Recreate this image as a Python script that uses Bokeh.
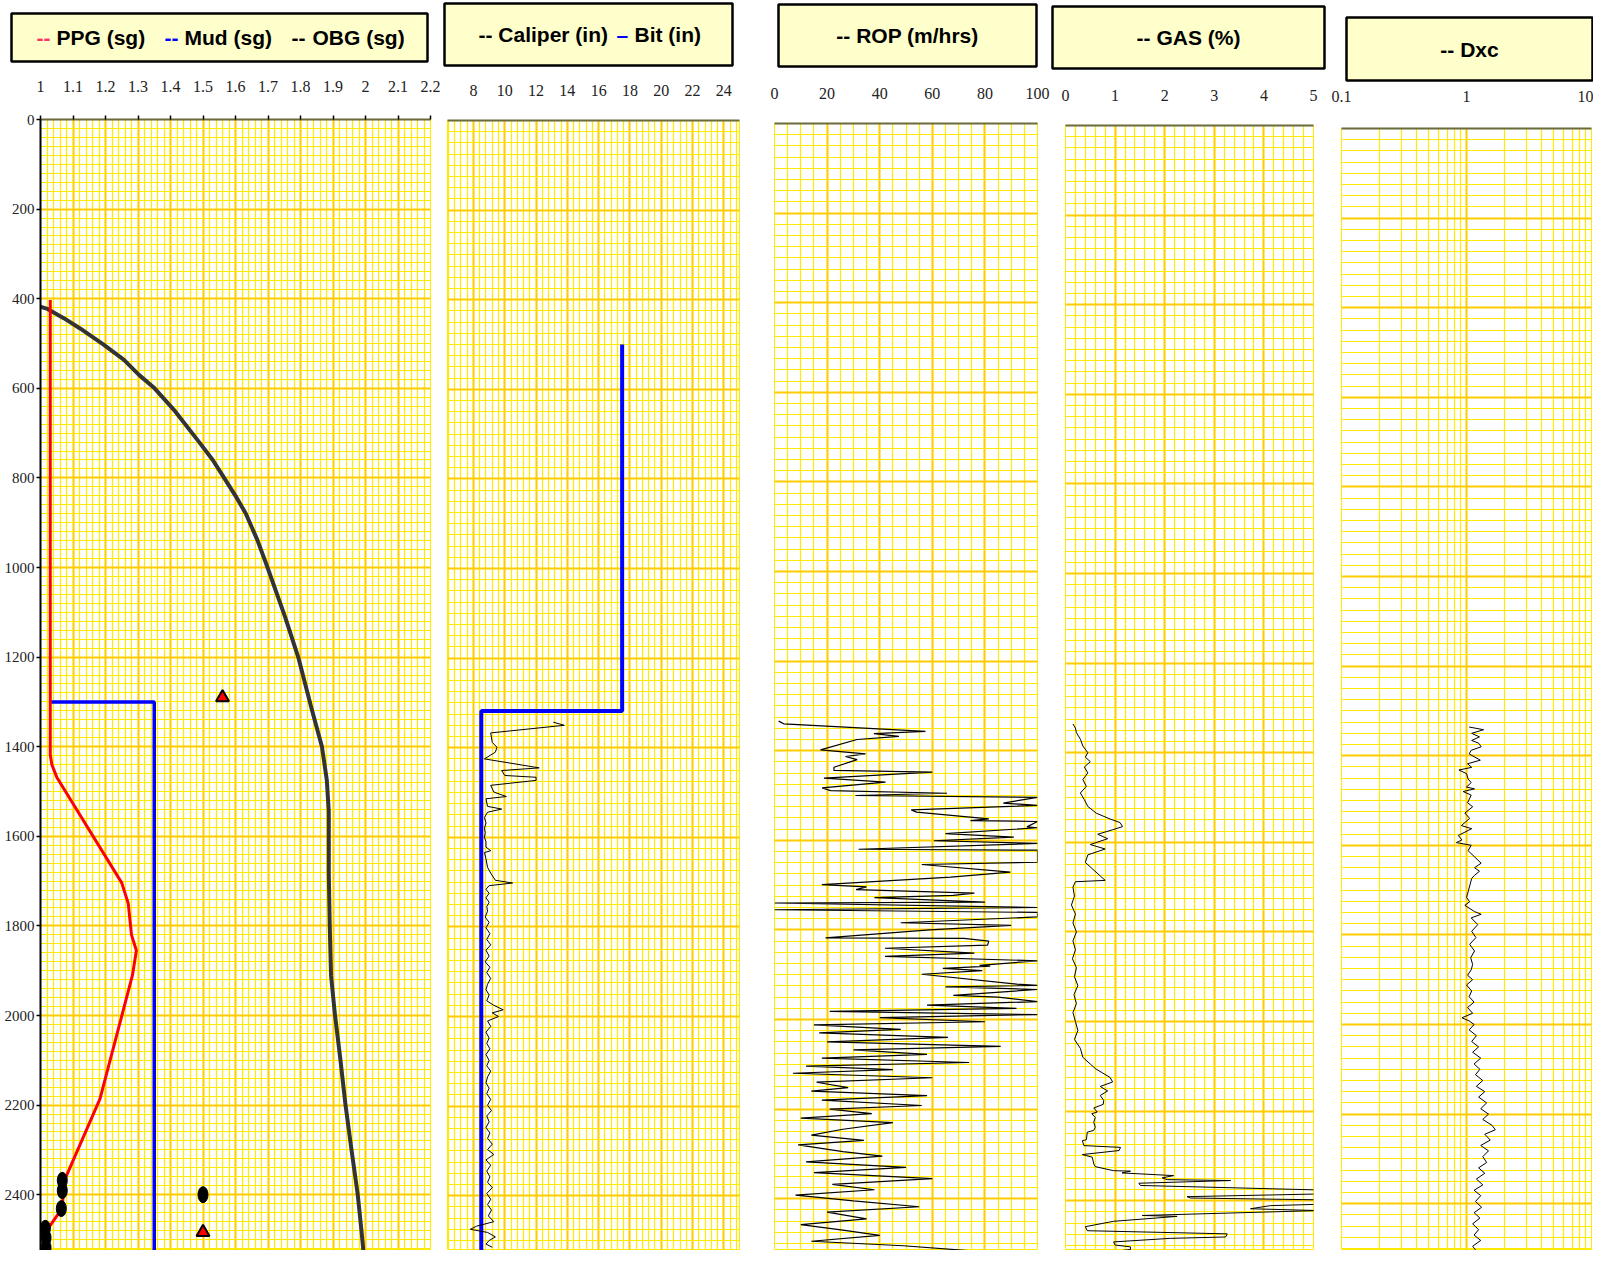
import numpy as np
from bokeh.plotting import figure
from bokeh.layouts import row, column
from bokeh.models import Range1d, FixedTicker, CustomJSTickFormatter
from bokeh.core.properties import value
from bokeh.embed import file_html
from bokeh.resources import INLINE

# ------------------------------------------------------------------ data
DEPTH_TICKS = [0, 200, 400, 600, 800, 1000, 1200, 1400, 1600, 1800, 2000, 2200, 2400, 2600]

# Track 1 : pressure gradients (sg)
PPG_TICKS = [1.0, 1.1, 1.2, 1.3, 1.4, 1.5, 1.6, 1.7, 1.8, 1.9, 2.0, 2.1, 2.2]
PPG_DEPTH = [403, 1418, 1440, 1468, 1704, 1750, 1820, 1855, 1910, 2186, 2369, 2430, 2484, 2525]
PPG_VAL = [1.03, 1.03, 1.035, 1.05, 1.25, 1.27, 1.28, 1.295, 1.283, 1.183, 1.073, 1.067, 1.015, 1.017]

MUD_DEPTH = [1300, 1300, 2560]
MUD_VAL = [1.03, 1.35, 1.35]

OBG_DEPTH = [417, 422, 444, 467, 502, 536, 570, 600, 651, 719, 760, 800, 840, 880, 940, 999,
             1109, 1200, 1315, 1400, 1475, 1544, 1682, 1801, 1911, 1998, 2094, 2197, 2300,
             2399, 2483, 2560]
OBG_VAL = [0.995, 1.019, 1.073, 1.123, 1.193, 1.256, 1.303, 1.351, 1.414, 1.487, 1.53, 1.565,
           1.60, 1.632, 1.668, 1.698, 1.752, 1.793, 1.834, 1.866, 1.881, 1.887, 1.887, 1.89,
           1.894, 1.906, 1.922, 1.938, 1.957, 1.976, 1.988, 1.998]

PT_DEPTH = [2368, 2391, 2431, 2475, 2496, 2518, 2400]
PT_VAL = [1.067, 1.067, 1.064, 1.015, 1.017, 1.017, 1.5]

TRI_DEPTH = [1290, 2484]
TRI_VAL = [1.56, 1.5]

# Track 2 : caliper / bit (in)
CAL_TICKS = [8, 10, 12, 14, 16, 18, 20, 22, 24]
BIT_DEPTH = [500, 1318, 1318, 2560]
BIT_VAL = [17.5, 17.5, 8.5, 8.5]

CAL_DEPTH = [1343, 1350, 1367, 1388, 1399, 1410, 1425, 1445, 1451, 1462, 1466, 1473, 1484, 1499,
             1509, 1514, 1531, 1537, 1544, 1556, 1568, 1580, 1590, 1600, 1610, 1622, 1630, 1634,
             1648, 1667, 1680, 1696, 1702, 1708, 1716, 1725, 1735, 1745, 1755, 1765, 1778, 1790,
             1802, 1815, 1828, 1840, 1852, 1865, 1878, 1890, 1902, 1915, 1928, 1940, 1952, 1965,
             1975, 1985, 1992, 2000, 2010, 2022, 2035, 2048, 2060, 2072, 2085, 2098, 2110, 2122,
             2135, 2148, 2160, 2172, 2185, 2198, 2210, 2222, 2235, 2248, 2260, 2272, 2285, 2297,
             2308, 2320, 2332, 2345, 2358, 2370, 2382, 2395, 2408, 2420, 2432, 2445, 2458, 2468,
             2475, 2482, 2492, 2500, 2508, 2515]
CAL_VAL = [13.1, 13.8, 9.1, 9.2, 9.5, 9.4, 8.7, 12.2, 9.8, 10.0, 12.0, 12.0, 9.1, 9.3,
           10.1, 8.8, 8.9, 9.8, 8.9, 8.7, 8.8, 8.7, 8.75, 8.7, 8.8, 8.8, 9.1, 8.7,
           8.8, 8.9, 9.1, 9.4, 10.5, 9.0, 8.8, 9.0, 8.8, 9.0, 8.85, 8.9, 8.75, 9.0,
           8.8, 9.05, 8.85, 9.1, 8.8, 9.0, 8.75, 9.05, 8.85, 9.1, 8.9, 8.8, 9.0, 8.85,
           9.3, 9.9, 9.2, 9.6, 8.9, 9.1, 8.8, 9.0, 8.85, 9.05, 8.8, 9.0, 8.85, 9.1,
           8.9, 8.8, 9.0, 8.85, 9.1, 8.9, 9.15, 8.85, 9.0, 8.8, 9.05, 8.9, 9.2, 8.9,
           9.3, 8.8, 9.1, 8.85, 9.05, 8.9, 9.2, 8.85, 9.1, 8.9, 9.15, 8.95, 9.3, 8.2,
           7.8, 8.9, 9.4, 9.0, 8.8, 9.2]

# Track 3 : ROP (m/hrs)
ROP_TICKS = [0, 20, 40, 60, 80, 100]
ROP_DEPTH = [1334, 1340, 1357, 1362, 1368, 1375, 1398, 1407, 1413, 1420, 1437, 1444, 1448, 1461,
             1470, 1483, 1489, 1495, 1500, 1504, 1517, 1522, 1532, 1537, 1552, 1556, 1558, 1570,
             1572, 1585, 1593, 1601, 1607, 1620, 1622, 1649, 1654, 1671, 1682, 1699, 1704, 1710,
             1718, 1723, 1728, 1738, 1740, 1750, 1755, 1761, 1771, 1784, 1790, 1800, 1818, 1819,
             1825, 1834, 1841, 1852, 1859, 1869, 1879, 1881, 1886, 1891, 1899, 1921, 1924, 1927,
             1933, 1946, 1950, 1960, 1968, 1975, 1982, 1989, 1996, 2005, 2012, 2022, 2030, 2040,
             2050, 2060, 2068, 2078, 2086, 2096, 2104, 2112, 2120, 2130, 2140, 2152, 2160, 2170,
             2180, 2192, 2200, 2210, 2220, 2230, 2245, 2258, 2270, 2280, 2295, 2305, 2318, 2330,
             2342, 2355, 2368, 2380, 2392, 2405, 2418, 2430, 2445, 2458, 2470, 2482, 2495, 2505,
             2516]
ROP_VAL = [1.6, 3.5, 57.4, 37.8, 47.3, 31.4, 17.5, 34.6, 27, 31.4, 22.6, 22.6, 60, 18.8,
           42.2, 18.1, 21.3, 65.6, 30.8, 100, 87, 100, 52, 54, 81.5, 74.5, 100, 96,
           100, 65, 91, 60.6, 100, 32, 100, 100, 56, 89.7, 67, 18, 35, 31,
           76, 68, 38, 80, 0, 100, 0, 100, 100, 48, 90, 59, 19.4, 72,
           81.5, 81, 42, 76, 42, 100, 78, 82, 64, 79, 56, 92, 100, 65,
           100, 68, 85, 100, 58, 92, 21, 100, 40, 80, 15, 48, 17, 66,
           20, 86, 30, 58, 18, 74, 12, 45, 7, 60, 16, 28, 14, 58,
           18, 56, 21, 37, 10, 45, 26, 14, 34, 9, 26, 41, 12, 50,
           15, 60, 22, 38, 8, 30, 55, 20, 35, 10, 26, 40, 14, 49,
           74]

# Track 4 : GAS (%)
GAS_TICKS = [0, 1, 2, 3, 4, 5]
GAS_DEPTH = [1336, 1345, 1355, 1370, 1385, 1400, 1410, 1420, 1432, 1445, 1460, 1475, 1490, 1505,
             1520, 1535, 1548, 1556, 1565, 1572, 1582, 1592, 1605, 1615, 1628, 1645, 1660, 1675,
             1685, 1688, 1700, 1720, 1740, 1760, 1780, 1800, 1820, 1840, 1860, 1880, 1900, 1920,
             1940, 1960, 1980, 2000, 2020, 2040, 2060, 2080, 2095, 2105, 2115, 2125, 2135, 2145,
             2155, 2165, 2176, 2185, 2193, 2202, 2206, 2214, 2225, 2236, 2243, 2247, 2264, 2266,
             2277, 2281, 2288, 2297, 2303, 2318, 2324, 2333, 2334, 2338, 2344, 2349, 2353, 2355,
             2361, 2366, 2376, 2385, 2391, 2394, 2398, 2408, 2411, 2418, 2422, 2433, 2435, 2446,
             2458, 2467, 2474, 2481, 2484, 2492, 2499, 2503, 2509, 2514, 2519, 2521]
GAS_VAL = [0.15, 0.2, 0.22, 0.3, 0.35, 0.45, 0.4, 0.5, 0.38, 0.45, 0.35, 0.42, 0.3, 0.38,
           0.45, 0.62, 0.9, 1.1, 1.15, 0.95, 0.65, 0.85, 0.5, 0.8, 0.45, 0.4, 0.55, 0.7,
           0.8, 0.2, 0.15, 0.18, 0.12, 0.2, 0.15, 0.22, 0.15, 0.2, 0.14, 0.22, 0.18, 0.25,
           0.17, 0.22, 0.15, 0.2, 0.25, 0.18, 0.3, 0.35, 0.5, 0.6, 0.75, 0.9, 0.95, 0.7,
           0.85, 0.7, 0.77, 0.76, 0.57, 0.64, 0.53, 0.6, 0.57, 0.6, 0.57, 0.44, 0.42, 0.34,
           0.37, 1.11, 1.08, 0.34, 0.54, 0.57, 0.6, 0.97, 1.31, 1.14, 2.18, 1.95, 2.05, 3.33,
           1.48, 1.51, 5.1, 5.1, 2.45, 2.52, 5.1, 5.1, 4.13, 3.73, 5.1, 1.55, 2.25, 0.97,
           0.4, 0.44, 3.26, 3.23, 2.12, 0.97, 1.0, 1.31, 1.31, 0.91, 1.55, 1.92]

# Track 5 : Dxc
DXC_TICKS = [0.1, 1, 10]
DXC_DEPTH = [1336, 1342, 1350, 1358, 1366, 1372, 1380, 1388, 1396, 1410, 1418, 1426, 1432, 1440,
             1452, 1460, 1470, 1474, 1480, 1488, 1505, 1514, 1528, 1540, 1556, 1563, 1578, 1588,
             1594, 1600, 1612, 1640, 1650, 1658, 1667, 1674, 1704, 1716, 1726, 1734, 1748, 1754,
             1762, 1777, 1792, 1806, 1821, 1836, 1851, 1866, 1878, 1890, 1900, 1912, 1925, 1938,
             1950, 1962, 1975, 1985, 1992, 2000, 2012, 2025, 2038, 2050, 2062, 2075, 2088, 2100,
             2112, 2125, 2138, 2150, 2162, 2175, 2188, 2200, 2212, 2225, 2235, 2245, 2258, 2270,
             2282, 2295, 2308, 2320, 2332, 2345, 2358, 2370, 2382, 2395, 2408, 2420, 2432, 2445,
             2458, 2470, 2482, 2495, 2508, 2518]
DXC_VAL = [1.05, 1.37, 1.1, 1.27, 1.1, 1.25, 1.31, 1.09, 1.05, 1.29, 1.02, 1.1, 0.87, 1.0,
           1.03, 1.09, 1.0, 1.16, 0.94, 1.09, 1.02, 1.12, 0.97, 1.06, 0.91, 1.1, 0.86, 0.92,
           0.83, 1.09, 1.03, 1.31, 1.16, 1.27, 1.16, 1.1, 1.03, 1.0, 1.06, 0.97, 1.16, 1.31,
           1.09, 1.23, 1.1, 1.19, 1.06, 1.16, 1.08, 1.12, 1.09, 1.02, 1.12, 1.0, 1.1, 1.05,
           1.15, 1.02, 1.12, 0.92, 1.05, 1.15, 1.05, 1.2, 1.1, 1.25, 1.12, 1.3, 1.15, 1.28,
           1.18, 1.35, 1.2, 1.4, 1.25, 1.45, 1.3, 1.5, 1.35, 1.6, 1.7, 1.4, 1.55, 1.3,
           1.5, 1.35, 1.45, 1.25, 1.4, 1.2, 1.35, 1.15, 1.3, 1.18, 1.32, 1.15, 1.28, 1.12,
           1.25, 1.15, 1.3, 1.12, 1.22, 1.1]

# ------------------------------------------------------------------ style
MAJOR = "#FFCC00"
MINOR = "#FFEA00"
OLIVE = "#6B6B3A"
SERIF = "Liberation Serif"
SANS = "Liberation Sans"
BOX_FILL = "#FFFFCC"
TOTAL_H = 1250


def header(width, H, left, right, top, frame_h, segs, centered=False):
    fw = width - left - right
    h = figure(width=width, height=H, x_range=Range1d(0, fw), y_range=Range1d(0, frame_h),
               x_axis_type=None, y_axis_type=None, toolbar_location=None,
               output_backend="svg", frame_align=False,
               min_border_left=left, min_border_right=right,
               min_border_top=top, min_border_bottom=H - top - frame_h)
    h.background_fill_color = BOX_FILL
    h.border_fill_color = "white"
    h.outline_line_color = "black"
    h.outline_line_width = 2.5
    for txt, x, col in segs:
        h.text(x=[fw / 2 if centered else x], y=[frame_h / 2], text=[txt], text_color=col,
               text_font=value(SANS), text_font_style="bold", text_font_size="21px",
               text_baseline="middle", text_align="center" if centered else "left")
    return h


def track(width, H, left, right, top, x_range, xt, xminor, yminor, log=False,
          show_y=False, tick_out=0, standoff=25):
    depth_max = (H - top) / 0.448
    p = figure(width=width, height=H, x_range=x_range, y_range=Range1d(depth_max, 0),
               x_axis_location="above", x_axis_type="log" if log else "linear",
               toolbar_location=None, output_backend="svg", frame_align=False,
               min_border_left=left, min_border_right=right,
               min_border_top=top, min_border_bottom=0)
    p.background_fill_color = "white"
    p.border_fill_color = "white"
    p.outline_line_color = MINOR
    xa = p.xaxis[0]
    xa.ticker = FixedTicker(ticks=xt, minor_ticks=xminor)
    xa.formatter = CustomJSTickFormatter(code="return String(Math.round(tick*100)/100);")
    xa.axis_line_color = OLIVE
    xa.axis_line_width = 2
    xa.major_tick_out = tick_out
    xa.major_tick_in = 0
    xa.major_tick_line_color = "black" if tick_out else None
    xa.major_tick_line_width = 1.5
    xa.minor_tick_out = 0
    xa.minor_tick_in = 0
    xa.minor_tick_line_color = None
    xa.major_label_text_font = SERIF
    xa.major_label_text_font_size = "16px"
    xa.major_label_text_color = "#222222"
    xa.major_label_standoff = standoff
    ya = p.yaxis[0]
    ya.ticker = FixedTicker(ticks=DEPTH_TICKS, minor_ticks=yminor)
    if show_y:
        ya.axis_line_color = "black"
        ya.axis_line_width = 2
        ya.major_tick_out = 4
        ya.major_tick_in = 0
        ya.major_tick_line_color = "black"
        ya.major_tick_line_width = 1.5
        ya.minor_tick_line_color = None
        ya.major_label_text_font = SERIF
        ya.major_label_text_font_size = "15px"
        ya.major_label_text_color = "#222222"
        ya.major_label_standoff = 2
    else:
        ya.visible = False
    for g in (p.xgrid[0], p.ygrid[0]):
        g.grid_line_color = MAJOR
        g.grid_line_width = 2
        g.minor_grid_line_color = MINOR
        g.minor_grid_line_width = 1.2
    return p


minor20 = list(np.arange(0, 2601, 20))
minor25 = list(np.arange(0, 2601, 25))

# ---------------- column 1
h1 = header(440, 74, 11, 13, 13, 48,
            [("--", 25, "#FF3366"), ("PPG (sg)", 45, "black"),
             ("--", 153, "#0000FF"), ("Mud (sg)", 173, "black"),
             ("--", 280, "black"), ("OBG (sg)", 301, "black")])
t1 = track(440, TOTAL_H - 74, 40, 10, 45, Range1d(1.0, 2.2), PPG_TICKS,
           list(np.arange(1.0, 2.2001, 0.02)), minor20, show_y=True, tick_out=4, standoff=24)
t1.line(MUD_VAL, MUD_DEPTH, line_color="#0000FF", line_width=3.5)
t1.line(OBG_VAL, OBG_DEPTH, line_color="#333333", line_width=4, line_join="round")
t1.line(PPG_VAL, PPG_DEPTH, line_color="#FF0000", line_width=3)
t1.ellipse(x=PT_VAL, y=PT_DEPTH, width=10, height=16, width_units="screen",
           height_units="screen", fill_color="black", line_color="black")
t1.scatter(TRI_VAL, TRI_DEPTH, marker="triangle", size=13, fill_color="#FF0000",
           line_color="black", line_width=2)

# ---------------- column 2
h2 = header(320, 76, 4, 28, 3, 62,
            [("-- Caliper (in)", 34, "black"), ("\u2013", 172, "#0000FF"),
             ("Bit (in)", 190, "black")])
t2 = track(320, TOTAL_H - 76, 7, 21, 44, Range1d(6.34, 25.0), CAL_TICKS,
           list(np.arange(6.4, 25.01, 0.4)), minor25, standoff=25)
t2.line(BIT_VAL, BIT_DEPTH, line_color="#0000FF", line_width=4)
t2.line(CAL_VAL, CAL_DEPTH, line_color="black", line_width=1)

# ---------------- column 3
h3 = header(290, 78, 18, 14, 4, 62, [("-- ROP (m/hrs)", 0, "black")], centered=True)
t3 = track(290, TOTAL_H - 78, 14, 13, 45, Range1d(0, 100), ROP_TICKS,
           list(np.arange(0, 100.1, 5)), minor25, standoff=25)
t3.line(ROP_VAL, ROP_DEPTH, line_color="black", line_width=1.2)

# ---------------- column 4
h4 = header(280, 80, 2, 6, 6, 62, [("-- GAS (%)", 0, "black")], centered=True)
t4 = track(280, TOTAL_H - 80, 15, 17, 45, Range1d(0, 5), GAS_TICKS,
           list(np.arange(0, 5.01, 0.2)), minor25, standoff=25)
t4.line(GAS_VAL, GAS_DEPTH, line_color="black", line_width=1)

# ---------------- column 5
h5 = header(263, 84, 16, 1, 17, 63, [("-- Dxc", 0, "black")], centered=True)
dxc_minor = [0.2, 0.3, 0.4, 0.5, 0.6, 0.7, 0.8, 0.9, 2, 3, 4, 5, 6, 7, 8, 9]
t5 = track(263, TOTAL_H - 84, 11, 2, 44, Range1d(0.1, 10), DXC_TICKS, dxc_minor,
           minor25, log=True, standoff=27)
t5.line(DXC_VAL, DXC_DEPTH, line_color="black", line_width=1)

layout = row(column(h1, t1), column(h2, t2), column(h3, t3), column(h4, t4), column(h5, t5))

open("out.html", "w").write(file_html(layout, INLINE))
